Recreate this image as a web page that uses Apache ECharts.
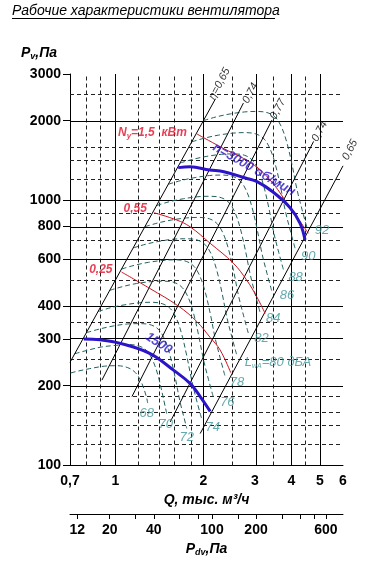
<!DOCTYPE html>
<html>
<head>
<meta charset="utf-8">
<script src="https://cdn.jsdelivr.net/npm/echarts@6.0.0/dist/echarts.min.js"></script>
<style>
html,body{margin:0;padding:0;background:#fff;}
#chart{width:372px;height:563px;}
</style>
</head>
<body>
<div id="chart"></div>
<script>
// ---------- axes / ticks ----------
const qRange = [0.7, 6];
const qTickLabels = [0.7, 1, 2, 3, 4, 5, 6];
const qMajorLines = [1, 2, 3, 4, 5, 6];
const qMinorLines = [0.8, 0.9, 1.2, 1.4, 1.6, 1.8, 2.5, 3.5, 4.5];
const pRange = [100, 3000];
const pTickLabels = [100, 200, 300, 400, 600, 800, 1000, 2000, 3000];
const pMajorLines = [200, 300, 400, 600, 800, 1000, 2000, 3000];
const pMinorLines = [120, 140, 160, 180, 250, 350, 500, 700, 900, 1200, 1400, 1600, 2500];
const pdvRange = [10.7, 786];
const pdvTicks = [12, 20, 30, 40, 60, 80, 100, 150, 200, 300, 400, 500, 600];
const pdvTickLabels = [12, 20, 40, 100, 200, 600];

// ---------- fan curves (Q, тыс. м3/ч ; Pv, Па) ----------
const rpmLabels = ['n=3000 об/мин', '1500'];
const n3000Q = [1.64, 1.80, 2.10, 2.35, 2.80, 3.05, 3.45, 3.95, 4.28, 4.45];
const n3000P = [1330, 1340, 1303, 1284, 1213, 1178, 1079, 941, 820, 710];
const n1500Q = [0.78, 0.886, 1.04, 1.31, 1.58, 1.80, 1.95, 2.11];
const n1500P = [300, 298, 289, 265, 229, 204, 182, 160];

// ---------- power lines ----------
const powerLabels = ['1,5', '0,55', '0,25'];
const power15Q = [1.90, 2.28, 2.92, 3.38, 3.90, 4.57];
const power15P = [1782, 1596, 1381, 1195, 962, 752];
const power055Q = [1.355, 1.62, 1.80, 2.11, 2.53, 2.81, 3.04, 3.25];
const power055P = [899, 844, 796, 689, 580, 501, 434, 375];
const power025Q = [1.05, 1.31, 1.64, 1.90, 2.11, 2.28, 2.48];
const power025P = [537, 466, 400, 349, 304, 273, 224];

// ---------- efficiency lines ----------
const etaLabels = ['η=0,65', '0,74', '0,77', '0,74', '0,65'];
const etaQ = [[0.70, 2.20], [0.90, 2.74], [1.14, 3.43], [1.54, 4.76], [1.95, 6.0]];
const etaP = [[245, 2420], [210, 2330], [182, 2010], [146, 1670], [132, 1351]];

// ---------- noise level contours L_wA, дБА ----------
const noiseLevels = [92, 90, 88, 86, 84, 82, 80, 78, 76, 74, 72, 70, 68];
const noiseQ = [
  [2.00, 2.21, 2.47, 2.77, 3.05, 3.33, 3.54, 3.71, 3.86, 4.02, 4.18, 4.35, 4.52],
  [1.824, 2.016, 2.253, 2.526, 2.782, 3.037, 3.228, 3.384, 3.520, 3.666, 3.812, 3.967, 4.122],
  [1.664, 1.838, 2.055, 2.304, 2.537, 2.770, 2.945, 3.086, 3.211, 3.344, 3.477, 3.618, 3.760],
  [1.517, 1.677, 1.874, 2.101, 2.314, 2.526, 2.685, 2.814, 2.928, 3.050, 3.171, 3.300, 3.429],
  [1.384, 1.529, 1.709, 1.916, 2.110, 2.304, 2.449, 2.567, 2.670, 2.781, 2.892, 3.009, 3.127],
  [1.262, 1.395, 1.559, 1.748, 1.925, 2.101, 2.234, 2.341, 2.436, 2.537, 2.638, 2.745, 2.852],
  [1.151, 1.272, 1.421, 1.594, 1.755, 1.916, 2.037, 2.135, 2.221, 2.313, 2.405, 2.503, 2.601],
  [1.050, 1.160, 1.296, 1.454, 1.601, 1.748, 1.858, 1.947, 2.026, 2.110, 2.194, 2.283, 2.372],
  [0.957, 1.058, 1.182, 1.326, 1.460, 1.594, 1.694, 1.776, 1.847, 1.924, 2.001, 2.082, 2.163],
  [0.873, 0.965, 1.078, 1.209, 1.331, 1.454, 1.545, 1.619, 1.685, 1.755, 1.825, 1.899, 1.973],
  [0.796, 0.880, 0.983, 1.103, 1.214, 1.326, 1.409, 1.477, 1.537, 1.600, 1.664, 1.732, 1.755],
  [0.726, 0.802, 0.897, 1.006, 1.107, 1.209, 1.285, 1.347, 1.402, 1.460, 1.500],
  [0.662, 0.732, 0.818, 0.917, 1.010, 1.103, 1.172, 1.228, 1.278, 1.290]
];
const noiseP = [
  [2000, 2066, 2121, 2158, 2167, 2139, 2048, 1877, 1648, 1361, 1096, 921, 788],
  [1664, 1718, 1764, 1795, 1803, 1779, 1704, 1561, 1371, 1132, 912, 766, 655],
  [1384, 1429, 1467, 1493, 1499, 1480, 1417, 1298, 1140, 942, 758, 637, 545],
  [1151, 1189, 1220, 1242, 1247, 1231, 1178, 1080, 948, 783, 631, 530, 453],
  [957, 989, 1015, 1033, 1037, 1024, 980, 898, 789, 651, 525, 441, 377],
  [796, 822, 844, 859, 863, 852, 815, 747, 656, 542, 436, 367, 314],
  [662, 684, 702, 715, 717, 708, 678, 621, 546, 451, 363, 305, 261],
  [551, 569, 584, 594, 597, 589, 564, 517, 454, 375, 302, 254, 217],
  [458, 473, 486, 494, 496, 490, 469, 430, 378, 312, 251, 211, 181],
  [381, 394, 404, 411, 413, 407, 390, 358, 314, 259, 209, 175, 150],
  [317, 327, 336, 342, 343, 339, 325, 298, 261, 216, 174, 146, 138],
  [264, 272, 280, 284, 286, 282, 270, 247, 217, 179, 156],
  [219, 226, 232, 237, 238, 234, 224, 206, 181, 172]
];

// ---------- helpers ----------
const L = Math.log10;
const pt = (q, p) => [L(q), L(p)];
const toLine = (qs, ps) => qs.map((q, i) => pt(q, ps[i]));
const FONT = '"Liberation Sans", Arial, sans-serif';
// label offset given in screen pixels, converted for rotated text
function rotOff(dx, dy, deg) {
  const r = deg * Math.PI / 180, c = Math.cos(r), s = Math.sin(r);
  return [c * dx - s * dy, s * dx + c * dy];
}

const C_NOISE = '#22605f', C_NOISE_TXT = '#3f9597';
const C_RED = '#c8141e', C_RED_TXT = '#e0102a';
const C_BLUE = '#2c14c8';

const majorStyle = { color: '#000', width: 1, type: 'solid' };
const minorStyle = { color: '#222', width: 1, type: [4, 3] };

const series = [];

// grid lines
const gridMarks = [];
qMajorLines.forEach(v => gridMarks.push({ xAxis: L(v), lineStyle: majorStyle }));
qMinorLines.forEach(v => gridMarks.push({ xAxis: L(v), lineStyle: minorStyle }));
pMajorLines.forEach(v => gridMarks.push({ yAxis: L(v), lineStyle: majorStyle }));
pMinorLines.forEach(v => gridMarks.push({ yAxis: L(v), lineStyle: minorStyle }));
series.push({
  type: 'line', data: [], silent: true, z: 1,
  markLine: { silent: true, z: 1, symbol: ['none', 'none'], label: { show: false },
    emphasis: { disabled: true }, animation: false, data: gridMarks }
});

// noise contours
noiseLevels.forEach((lv, i) => {
  series.push({
    type: 'line', name: 'L' + lv, data: toLine(noiseQ[i], noiseP[i]), smooth: 0.35,
    symbol: 'none', silent: true, z: 2,
    lineStyle: { color: C_NOISE, width: 1, type: [5, 3] }
  });
});

// efficiency lines
etaLabels.forEach((nm, i) => {
  series.push({
    type: 'line', name: nm, data: toLine(etaQ[i], etaP[i]), symbol: 'none', silent: true, z: 3,
    lineStyle: { color: '#000', width: 1 }
  });
});

// power lines
const powerQ = [power15Q, power055Q, power025Q];
const powerP = [power15P, power055P, power025P];
powerLabels.forEach((nm, i) => {
  series.push({
    type: 'line', name: 'N ' + nm, data: toLine(powerQ[i], powerP[i]), smooth: 0.4,
    symbol: 'none', silent: true, z: 4, lineStyle: { color: C_RED, width: 1 }
  });
});

// fan curves
const rpmQ = [n3000Q, n1500Q];
const rpmP = [n3000P, n1500P];
rpmLabels.forEach((nm, i) => {
  series.push({
    type: 'line', name: nm, data: toLine(rpmQ[i], rpmP[i]), smooth: 0.4,
    symbol: 'none', silent: true, z: 5, lineStyle: { color: C_BLUE, width: 3 }
  });
});

// ---------- text labels anchored on the data ----------
const labelData = [];
const noiseOffsets = [[15,3],[13,7],[12,7],[15,4],[13,6],[13,5],[8,7],[12,6],[14,5],[11,9],[0,9],[-1,10],[-1,10]];
noiseLevels.forEach((lv, i) => {
  const q = noiseQ[i], p = noiseP[i], n = q.length - 1;
  const is80 = lv === 80;
  labelData.push({
    value: pt(q[n], p[n]),
    label: {
      show: true, position: 'inside',
      formatter: is80 ? '{a|L}{s|wA}{a|=' + lv + ' дБА}' : String(lv),
      align: is80 ? 'left' : 'center', verticalAlign: 'middle',
      offset: noiseOffsets[i],
      color: C_NOISE_TXT, fontSize: 13, fontStyle: 'italic', fontFamily: FONT,
      rich: {
        a: { color: C_NOISE_TXT, fontSize: 13, fontStyle: 'italic', fontFamily: FONT, lineHeight: 15 },
        s: { color: C_NOISE_TXT, fontSize: 7, fontStyle: 'italic', fontFamily: FONT, lineHeight: 8, verticalAlign: 'bottom' }
      }
    }
  });
});

const etaOffsets = [[4,-15],[7,-10],[6,-11],[6,-10],[7,-16]];
etaLabels.forEach((nm, i) => {
  labelData.push({
    value: pt(etaQ[i][1], etaP[i][1]),
    label: {
      show: true, position: 'inside', formatter: nm, align: 'center', verticalAlign: 'middle',
      rotate: 62, offset: rotOff(etaOffsets[i][0], etaOffsets[i][1], 62),
      color: '#000', fontSize: 11, fontStyle: 'italic', fontFamily: FONT
    }
  });
});

const powerOffsets = [[-10,-1],[-7,-4],[-9,-2]];
powerLabels.forEach((nm, i) => {
  const richFmt = i === 0 ? '{a|N}{s|у}{a|=' + nm + '  кВт}' : '{a|' + nm + '}';
  labelData.push({
    value: pt(powerQ[i][0], powerP[i][0]),
    label: {
      show: true, position: 'inside', formatter: richFmt, align: 'right', verticalAlign: 'middle',
      offset: powerOffsets[i],
      color: C_RED_TXT, fontSize: 12, fontStyle: 'italic', fontWeight: 'bold', fontFamily: FONT,
      rich: {
        a: { color: C_RED_TXT, fontSize: 12, fontStyle: 'italic', fontWeight: 'bold', fontFamily: FONT, lineHeight: 14 },
        s: { color: C_RED_TXT, fontSize: 8, fontStyle: 'italic', fontWeight: 'bold', fontFamily: FONT, lineHeight: 8, verticalAlign: 'bottom' }
      }
    }
  });
});

const rpmAnchor = [5, 3];
const rpmOffsets = [[-3,-12],[9,-10]];
const rpmRot = [-30, -33];
rpmLabels.forEach((nm, i) => {
  const k = rpmAnchor[i];
  labelData.push({
    value: pt(rpmQ[i][k], rpmP[i][k]),
    label: {
      show: true, position: 'inside', formatter: nm, align: 'center', verticalAlign: 'middle',
      rotate: rpmRot[i], offset: rotOff(rpmOffsets[i][0], rpmOffsets[i][1], rpmRot[i]),
      color: C_BLUE, fontSize: 13, fontStyle: 'italic', fontWeight: 'bold', fontFamily: FONT
    }
  });
});

series.push({
  type: 'scatter', data: labelData, symbolSize: 1, clip: false, silent: true, z: 6,
  itemStyle: { color: 'rgba(0,0,0,0)' }
});

// ---------- option ----------
const axisLabelBase = { color: '#000', fontSize: 14, fontWeight: 'bold', fontFamily: FONT };
const blackLine = { color: '#000', width: 1 };
const fmtQ = v => { const x = Math.pow(10, v); return x < 1 ? x.toFixed(1).replace('.', ',') : String(Math.round(x)); };
const fmtInt = v => String(Math.round(Math.pow(10, v)));

const option = {
  animation: false,
  backgroundColor: '#fff',
  grid: { left: 70, right: 29, top: 74, height: 391.5, containLabel: false, outerBoundsMode: 'none' },
  xAxis: [
    {
      type: 'value', min: L(qRange[0]), max: L(qRange[1]),
      axisLine: { show: true, onZero: false, lineStyle: blackLine },
      axisTick: { show: false }, splitLine: { show: false },
      axisLabel: Object.assign({ customValues: qTickLabels.map(L), formatter: fmtQ, margin: 9 }, axisLabelBase),
      name: 'Q, тыс. м³/ч', nameLocation: 'middle', nameGap: 26,
      nameTextStyle: { color: '#000', fontSize: 14, fontStyle: 'italic', fontWeight: 'bold', fontFamily: FONT }
    },
    {
      type: 'value', position: 'bottom', offset: 48.5, min: L(pdvRange[0]), max: L(pdvRange[1]),
      axisLine: { show: true, onZero: false, lineStyle: blackLine },
      axisTick: { show: true, customValues: pdvTicks.map(L), length: 5, lineStyle: blackLine },
      splitLine: { show: false },
      axisLabel: Object.assign({ customValues: pdvTickLabels.map(L), formatter: fmtInt, margin: 9 }, axisLabelBase),
      name: '{b|P}{s|dv}{b|,Па}', nameLocation: 'middle', nameGap: 25,
      nameTextStyle: {
        rich: {
          b: { color: '#000', fontSize: 14, fontStyle: 'italic', fontWeight: 'bold', fontFamily: FONT, lineHeight: 16 },
          s: { color: '#000', fontSize: 9, fontStyle: 'italic', fontWeight: 'bold', fontFamily: FONT, lineHeight: 10, verticalAlign: 'bottom' }
        }
      }
    }
  ],
  yAxis: {
    type: 'value', min: L(pRange[0]), max: L(pRange[1]),
    axisLine: { show: true, onZero: false, lineStyle: blackLine },
    axisTick: { show: true, customValues: pTickLabels.map(L), length: 7, lineStyle: blackLine },
    splitLine: { show: false },
    axisLabel: Object.assign({ customValues: pTickLabels.map(L), formatter: fmtInt, margin: 9 }, axisLabelBase)
  },
  graphic: [
    { type: 'text', x: 12, y: 11, silent: true,
      style: { text: 'Рабочие характеристики вентилятора', fill: '#000',
        font: 'italic 14px ' + FONT, textVerticalAlign: 'middle' } },
    { type: 'line', silent: true, shape: { x1: 12, y1: 18.5, x2: 275, y2: 18.5 },
      style: { stroke: '#000', lineWidth: 1 } },
    { type: 'text', x: 21, y: 53, silent: true,
      style: { text: '{b|P}{s|v}{b|,Па}', textVerticalAlign: 'middle',
        rich: {
          b: { fill: '#000', fontSize: 14, fontStyle: 'italic', fontWeight: 'bold', fontFamily: FONT, lineHeight: 16 },
          s: { fill: '#000', fontSize: 9, fontStyle: 'italic', fontWeight: 'bold', fontFamily: FONT, lineHeight: 10, verticalAlign: 'bottom' }
        } } }
  ],
  series: series
};

const chart = echarts.init(document.getElementById('chart'), null, { renderer: 'canvas' });
chart.setOption(option);
</script>
</body>
</html>
